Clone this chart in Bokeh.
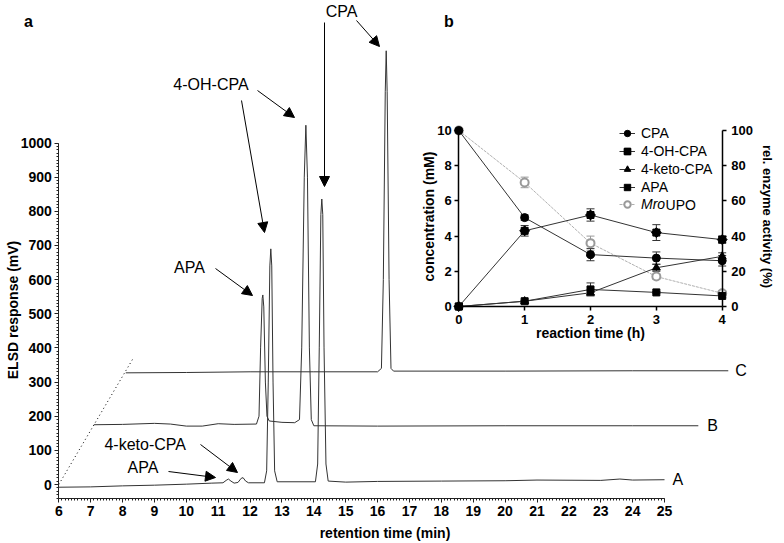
import math
from bokeh.plotting import figure
from bokeh.models import (Range1d, LinearAxis, SingleIntervalTicker, FixedTicker, Arrow,
                          NormalHead, Label, Legend, LegendItem, Whisker, TeeHead,
                          ColumnDataSource)
from bokeh.embed import file_html
from bokeh.resources import INLINE

# ---------------- data: panel a (chromatograms, vertices) ----------------
trace_a_t = [6.00, 7.00, 8.00, 9.00, 10.00, 10.80, 11.15, 11.25, 11.32, 11.40, 11.50, 11.62,
             11.72, 11.78, 11.86, 11.95, 12.45, 12.52, 12.57, 12.62, 12.65, 12.68, 12.72,
             12.77, 12.85, 14.05, 14.12, 14.17, 14.22, 14.25, 14.28, 14.32, 14.38, 14.45,
             15.00, 16.00, 18.00, 20.00, 21.00, 23.00, 23.60, 24.00, 25.00]
trace_a_v = [-8, -7, -4, -2, 1, 4, 5, 12, 16, 10, 4, 6,
             18, 20, 10, 5, 5, 40, 300, 640, 690, 640, 300,
             40, 8, 8, 60, 400, 790, 836, 790, 400, 60, 10,
             7, 9, 10, 11, 13, 12, 16, 13, 14]

trace_b_t = [7.10, 8.00, 9.00, 9.50, 10.00, 10.50, 11.00, 11.50, 12.20, 12.28, 12.33, 12.38,
             12.40, 12.43, 12.48, 12.53, 12.60, 13.00, 13.40, 13.55, 13.62, 13.70, 13.75,
             13.80, 13.86, 13.92, 14.00, 16.00, 20.00, 24.00, 26.06]
trace_b_v = [175, 176, 179, 177, 171, 171, 178, 176, 177, 200, 400, 545,
             555, 520, 300, 200, 186, 182, 181, 190, 400, 900, 1052,
             900, 400, 190, 172, 171, 172, 172, 172]

trace_c_t = [8.10, 10.00, 12.00, 14.00, 16.00, 16.12, 16.18, 16.24, 16.27, 16.30, 16.36,
             16.42, 16.50, 20.00, 24.00, 27.00]
trace_c_v = [327, 328, 330, 330, 330, 340, 600, 1150, 1270, 1150, 600,
             340, 332, 332, 333, 333]

trace_names = ["A", "B", "C"]
offset_line_t = [6.0, 8.31]
offset_line_v = [0, 366]

# ---------------- data: panel b (time course) ----------------
time_h = [0, 1, 2, 3, 4]
cpa = [10.0, 5.05, 2.95, 2.75, 2.6]
cpa_err = [0, 0.15, 0.35, 0.35, 0.3]
oh_cpa = [0.0, 4.3, 5.2, 4.2, 3.8]
oh_cpa_err = [0, 0.3, 0.35, 0.45, 0.2]
keto_cpa = [0.0, 0.3, 0.78, 2.2, 2.85]
keto_cpa_err = [0, 0.05, 0.15, 0.2, 0.2]
apa = [0.0, 0.3, 0.97, 0.8, 0.6]
apa_err = [0, 0.05, 0.37, 0.05, 0.1]
mro_upo = [100, 70.5, 36, 17, 7.5]
mro_upo_err = [0, 3, 4, 1.5, 1.5]

FONT = "Liberation Sans"
W, H = 782, 541
OFF = 0  # page offset of the canvas

# pixel -> data helpers (picture pixels)
A_T0_PX, A_TS = 58.3, 31.88
A_V0_PX, A_VS = 484.0, 0.3415
def a_t(px): return 6 + (px - A_T0_PX) / A_TS
def a_v(py): return (A_V0_PX - py) / A_VS

B_T0_PX, B_TS = 458.3, 65.85
B_C0_PX, B_CS = 306.0, 17.6
def b_t(px): return (px - B_T0_PX) / B_TS
def b_c(py): return (B_C0_PX - py) / B_CS
def b_a(py): return (B_C0_PX - py) / (B_CS / 10)

p = figure(width=W, height=H, output_backend="svg", toolbar_location=None,
           x_axis_type=None, y_axis_type=None,
           x_range=Range1d(a_t(OFF), a_t(OFF + W)), y_range=Range1d(a_v(OFF + H), a_v(OFF)),
           outline_line_color=None)
p.min_border_left = p.min_border_right = p.min_border_top = p.min_border_bottom = 0
p.extra_x_ranges = {"bt": Range1d(b_t(OFF), b_t(OFF + W))}
p.extra_y_ranges = {"bc": Range1d(b_c(OFF + H), b_c(OFF)), "ba": Range1d(b_a(OFF + H), b_a(OFF))}


def style_axis(ax, size="14px", lw=1, color="#222222"):
    ax.axis_line_color = color
    ax.axis_line_width = lw
    ax.major_tick_line_color = color
    ax.major_tick_line_width = lw
    ax.minor_tick_line_color = color
    ax.major_tick_in = 0
    ax.major_tick_out = 4
    ax.minor_tick_in = 0
    ax.minor_tick_out = 2
    ax.major_label_text_font = FONT
    ax.major_label_text_font_size = size
    ax.major_label_text_font_style = "bold"
    ax.major_label_text_color = "black"


# ---------------- panel a ----------------
ax_a = LinearAxis(fixed_location=-40, bounds=(6, 25),
                  ticker=SingleIntervalTicker(interval=1, num_minor_ticks=10))
style_axis(ax_a)
ax_a.major_label_standoff = 4
p.add_layout(ax_a, "below")

ay_a = LinearAxis(fixed_location=6, bounds=(-40, 1000),
                  ticker=SingleIntervalTicker(interval=100, num_minor_ticks=10))
style_axis(ay_a)
ay_a.major_label_standoff = 3
p.add_layout(ay_a, "left")

p.line(offset_line_t, offset_line_v, line_color="black", line_width=1, line_dash="1 3")
for tt, vv in [(trace_a_t, trace_a_v), (trace_b_t, trace_b_v), (trace_c_t, trace_c_v)]:
    p.line(tt, vv, line_color="#333333", line_width=1)

for name, tt, vv, off in zip(trace_names, [trace_a_t, trace_b_t, trace_c_t],
                             [trace_a_v, trace_b_v, trace_c_v], [8, 9, 7]):
    p.add_layout(Label(x=tt[-1], y=vv[-1], x_offset=off, text=name, text_font=FONT,
                       text_font_size="16px", text_align="left", text_baseline="middle",
                       text_color="black"))

# peak annotations (picture pixel positions of text and arrows)
ann_texts = [("CPA", 341, 11), ("4-OH-CPA", 210.5, 84), ("APA", 189, 267),
             ("4-keto-CPA", 144.7, 444), ("APA", 142.5, 467.3)]
for txt, px, py in ann_texts:
    p.add_layout(Label(x=a_t(px), y=a_v(py), text=txt, text_font=FONT, text_font_size="16px",
                       text_align="center", text_baseline="middle", text_color="black"))

ann_arrows = [((324, 22), (324, 186)), ((356, 20), (379, 46)),
              ((241, 100), (264, 232)), ((257, 90), (294, 117)),
              ((215, 268), (252, 295)), ((200, 444), (237, 472)),
              ((168, 471), (215, 477))]
for (x0, y0), (x1, y1) in ann_arrows:
    p.add_layout(Arrow(x_start=a_t(x0), y_start=a_v(y0), x_end=a_t(x1), y_end=a_v(y1),
                       line_color="black", line_width=1,
                       end=NormalHead(size=10, fill_color="black", line_color="black", line_width=1)))

# ---------------- panel b ----------------
bx = LinearAxis(x_range_name="bt", y_range_name="bc", fixed_location=0, bounds=(0, 4),
                ticker=FixedTicker(ticks=time_h))
style_axis(bx, size="13px", lw=1.5, color="black")
bx.major_label_standoff = 4
p.add_layout(bx, "below")

by = LinearAxis(x_range_name="bt", y_range_name="bc", fixed_location=0, bounds=(0, 10),
                ticker=FixedTicker(ticks=[0, 2, 4, 6, 8, 10]))
style_axis(by, size="13px", lw=1.5, color="black")
by.major_label_standoff = 3
p.add_layout(by, "left")

by2 = LinearAxis(x_range_name="bt", y_range_name="ba", fixed_location=4, bounds=(0, 100),
                 ticker=FixedTicker(ticks=[0, 20, 40, 60, 80, 100]))
style_axis(by2, size="13px", lw=1.5, color="black")
by2.major_label_standoff = 5
p.add_layout(by2, "right")

LC = "#333333"
GC = "#9a9a9a"

def whisk(vals, errs, yr, color):
    tt = [t for t, e in zip(time_h, errs) if e > 0]
    up = [v + e for v, e in zip(vals, errs) if e > 0]
    lo = [v - e for v, e in zip(vals, errs) if e > 0]
    src = ColumnDataSource(dict(t=tt, u=up, l=lo))
    p.add_layout(Whisker(source=src, base="t", upper="u", lower="l", dimension="height",
                         x_range_name="bt", y_range_name=yr, line_color=color, line_width=1,
                         upper_head=TeeHead(size=8, line_color=color, line_width=1),
                         lower_head=TeeHead(size=8, line_color=color, line_width=1)))

# MroUPO (right axis)
whisk(mro_upo, mro_upo_err, "ba", GC)
r_mro_l = p.line(time_h, mro_upo, x_range_name="bt", y_range_name="ba", line_color="#b0b0b0",
                 line_width=1, line_dash="3 1")
r_mro_s = p.scatter(time_h, mro_upo, x_range_name="bt", y_range_name="ba", marker="circle",
                    size=8, fill_color="white", line_color=GC, line_width=2)

for vals, errs in [(cpa, cpa_err), (oh_cpa, oh_cpa_err), (keto_cpa, keto_cpa_err), (apa, apa_err)]:
    whisk(vals, errs, "bc", LC)

r_cpa_l = p.line(time_h, cpa, x_range_name="bt", y_range_name="bc", line_color=LC, line_width=1)
r_oh_l = p.line(time_h, oh_cpa, x_range_name="bt", y_range_name="bc", line_color=LC, line_width=1)
r_keto_l = p.line(time_h, keto_cpa, x_range_name="bt", y_range_name="bc", line_color=LC, line_width=1)
r_apa_l = p.line(time_h, apa, x_range_name="bt", y_range_name="bc", line_color=LC, line_width=1)

r_keto_s = p.scatter(time_h, keto_cpa, x_range_name="bt", y_range_name="bc", marker="triangle",
                     size=8, color="black")
r_apa_s = p.scatter(time_h, apa, x_range_name="bt", y_range_name="bc", marker="square",
                    size=7, color="black")
r_oh_s1 = p.scatter(time_h, oh_cpa, x_range_name="bt", y_range_name="bc", marker="square",
                    size=7, color="black")
r_oh_s2 = p.scatter(time_h, oh_cpa, x_range_name="bt", y_range_name="bc", marker="square",
                    size=7, angle=math.pi / 4, color="black")
r_cpa_s = p.scatter(time_h, cpa, x_range_name="bt", y_range_name="bc", marker="circle",
                    size=8, color="black")

def make_legend(items, loc, italic=False):
    lg = Legend(items=items, location=loc, padding=0, margin=0, spacing=0,
                glyph_width=16, glyph_height=18, label_height=18, label_standoff=6,
                border_line_color=None, background_fill_alpha=0,
                label_text_font=FONT, label_text_font_size="14px", label_text_color="black")
    if italic:
        lg.label_text_font_style = "italic"
    p.add_layout(lg)

# legend positions in screen px measured from the canvas bottom-left
LEG_X = 619 - OFF
make_legend([LegendItem(label="CPA", renderers=[r_cpa_l, r_cpa_s]),
             LegendItem(label="4-OH-CPA", renderers=[r_oh_l, r_oh_s1, r_oh_s2]),
             LegendItem(label="4-keto-CPA", renderers=[r_keto_l, r_keto_s]),
             LegendItem(label="APA", renderers=[r_apa_l, r_apa_s])],
            (LEG_X, H - (196 - OFF)))
make_legend([LegendItem(label="Mro", renderers=[r_mro_l, r_mro_s])],
            (LEG_X, H - (213 - OFF)), italic=True)
p.add_layout(Label(x=b_t(619 + 16 + 6 + 24.1), y=b_c(204), x_range_name="bt", y_range_name="bc",
                   text="UPO", text_font=FONT, text_font_size="14px", text_align="left",
                   text_baseline="middle", text_color="black"))

# ---------------- titles ----------------
def title(txt, px, py, size="14px", angle=0.0, style="bold"):
    p.add_layout(Label(x=a_t(px), y=a_v(py), text=txt, text_font=FONT, text_font_size=size,
                       text_font_style=style, angle=angle, text_align="center",
                       text_baseline="middle", text_color="black"))

title("a", 28, 21, size="16px")
title("b", 448.3, 21, size="16px")
title("ELSD response (mV)", 12, 309.5, angle=math.pi / 2)
title("retention time (min)", 384.5, 532)
title("concentration (mM)", 428, 216, angle=math.pi / 2)
title("reaction time (h)", 590, 332)
title("rel. enzyme activity (%)", 767, 216, size="13px", angle=-math.pi / 2)

open("out.html", "w").write(file_html(p, INLINE))
